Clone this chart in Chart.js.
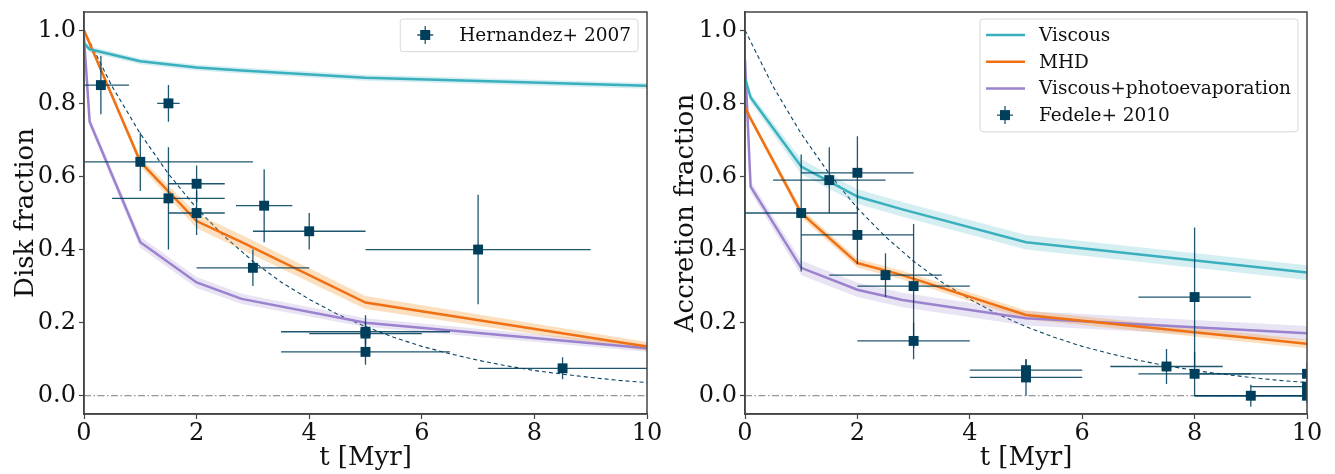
<!DOCTYPE html>
<html><head><meta charset="utf-8">
<script src="https://cdn.jsdelivr.net/npm/chart.js@4/dist/chart.umd.min.js"></script>
<style>
html,body{margin:0;padding:0;background:#fff;}
#wrap{position:relative;width:1335px;height:474px;overflow:hidden;}
#c1{position:absolute;left:0;top:0;}
#c2{position:absolute;left:667px;top:0;}
</style></head><body>
<div id="wrap">
<canvas id="c1" width="667" height="474"></canvas>
<canvas id="c2" width="668" height="474"></canvas>
</div>
<script>
// ---------- data ----------
const xTickVals = [0, 2, 4, 6, 8, 10];
const yTickVals = [0.0, 0.2, 0.4, 0.6, 0.8, 1.0];

const modelT = [0, 0.1, 1, 2, 2.8, 5, 10];
// Disk fraction models
const diskViscous = [0.965, 0.948, 0.915, 0.898, 0.890, 0.870, 0.848];
const diskMHD     = [1.000, 0.964, 0.640, 0.478, 0.420, 0.255, 0.135];
const diskPhoto   = [0.980, 0.750, 0.420, 0.310, 0.265, 0.200, 0.130];
const diskViscousErr = [0.008, 0.008, 0.008, 0.008, 0.008, 0.008, 0.008];
const diskMHDErr     = [0.005, 0.006, 0.012, 0.020, 0.020, 0.018, 0.012];
const diskPhotoErr   = [0.010, 0.012, 0.015, 0.015, 0.014, 0.012, 0.010];
// Accretion fraction models
const accViscous = [0.870, 0.816, 0.627, 0.545, 0.510, 0.420, 0.337];
const accMHD     = [0.790, 0.758, 0.500, 0.363, 0.330, 0.221, 0.142];
const accPhoto   = [0.920, 0.572, 0.350, 0.290, 0.262, 0.212, 0.171];
const accViscousErr = [0.010, 0.012, 0.020, 0.020, 0.020, 0.020, 0.020];
const accMHDErr     = [0.008, 0.008, 0.012, 0.012, 0.012, 0.012, 0.012];
const accPhotoErr   = [0.010, 0.015, 0.020, 0.020, 0.020, 0.020, 0.020];

// dashed reference decay curve
const refT = [0, 0.5, 1, 1.5, 2, 2.5, 3, 3.5, 4, 4.5, 5, 5.5, 6, 6.5, 7, 7.5, 8, 8.5, 9, 9.5, 10];
const refF = [1.0, 0.846, 0.717, 0.607, 0.513, 0.435, 0.368, 0.311, 0.264, 0.223, 0.189,
              0.160, 0.135, 0.115, 0.097, 0.082, 0.069, 0.059, 0.050, 0.042, 0.036];
// zero line
const zeroT = [0, 10];
const zeroF = [0, 0];

// Hernandez+ 2007
const hernT    = [0.3, 1.5, 1.0, 1.5, 2.0, 2.0, 3.2, 4.0, 3.0, 7.0, 5.0, 5.0, 5.0, 8.5];
const hernF    = [0.85, 0.80, 0.64, 0.54, 0.58, 0.50, 0.52, 0.45, 0.35, 0.40, 0.175, 0.17, 0.12, 0.075];
const hernTlo  = [0.5, 0.2, 1.0, 1.0, 0.5, 0.5, 0.5, 1.0, 1.0, 2.0, 1.5, 1.0, 1.5, 1.5];
const hernThi  = [0.5, 0.2, 2.0, 1.0, 0.5, 0.5, 0.5, 1.0, 1.0, 2.0, 1.5, 1.0, 1.5, 1.5];
const hernFerr = [0.08, 0.05, 0.08, 0.14, 0.05, 0.06, 0.10, 0.05, 0.05, 0.15, 0.045, 0.03, 0.035, 0.03];

// Fedele+ 2010
const fedT    = [1.0, 1.5, 2.0, 2.0, 2.5, 3.0, 3.0, 5.0, 5.0, 7.5, 8.0, 8.0, 9.0, 10.0, 10.0, 10.0];
const fedF    = [0.50, 0.59, 0.61, 0.44, 0.33, 0.30, 0.15, 0.07, 0.05, 0.08, 0.27, 0.06, 0.0, 0.06, 0.025, 0.0];
const fedTerr = [1, 1, 1, 1, 1, 1, 1, 1, 1, 1, 1, 1, 1, 2, 1, 2];
const fedFerr = [0.16, 0.09, 0.10, 0.08, 0.06, 0.17, 0.05, 0.03, 0.05, 0.048, 0.19, 0.06, 0.03, 0.03, 0.02, 0.02];

// ---------- styling ----------
const SERIF = "'DejaVu Serif', serif";
const C_TEAL = '#3ab0bf', C_TEAL_B = 'rgba(58,176,191,0.22)';
const C_ORNG = '#f07014', C_ORNG_B = 'rgba(245,150,40,0.30)';
const C_PURP = '#9b82cf', C_PURP_B = 'rgba(155,130,207,0.22)';
const C_PT = '#003f5c';
const SPINE = '#444';

const pts = (xs, ys) => xs.map((x, i) => ({x: x, y: ys[i]}));

function modelSets(ys, errs, line, band) {
  return [
    {data: pts(modelT, ys.map((v, i) => v + errs[i])), showLine: true, borderColor: 'rgba(0,0,0,0)',
     borderWidth: 0, pointRadius: 0, fill: false, order: 8, clip: 0, tension: 0},
    {data: pts(modelT, ys.map((v, i) => v - errs[i])), showLine: true, borderColor: 'rgba(0,0,0,0)',
     borderWidth: 0, pointRadius: 0, fill: '-1', backgroundColor: band, order: 8, clip: 0, tension: 0},
    {data: pts(modelT, ys), showLine: true, borderColor: line, borderWidth: 2.5, pointRadius: 0,
     fill: false, order: 5, clip: 0, tension: 0}
  ];
}

const errPlugin = {
  id: 'errbars',
  beforeDatasetDraw(chart, args, opts) {
    if (args.index !== opts.index) return;
    const {ctx, chartArea: a} = chart;
    const xs = chart.scales.x, ys = chart.scales.y;
    ctx.save();
    ctx.beginPath(); ctx.rect(a.left, a.top, a.right - a.left, a.bottom - a.top); ctx.clip();
    ctx.strokeStyle = 'rgba(0,63,92,0.88)';
    ctx.lineWidth = 1.3;
    for (let i = 0; i < opts.t.length; i++) {
      const t = opts.t[i], f = opts.f[i];
      const px = xs.getPixelForValue(t), py = ys.getPixelForValue(f);
      ctx.beginPath();
      ctx.moveTo(xs.getPixelForValue(t - opts.xlo[i]), py);
      ctx.lineTo(xs.getPixelForValue(t + opts.xhi[i]), py);
      ctx.moveTo(px, ys.getPixelForValue(f - opts.ferr[i]));
      ctx.lineTo(px, ys.getPixelForValue(f + opts.ferr[i]));
      ctx.stroke();
    }
    ctx.restore();
  }
};

const framePlugin = {
  id: 'frame',
  afterDraw(chart) {
    const {ctx, chartArea: a} = chart;
    ctx.save();
    ctx.strokeStyle = SPINE; ctx.lineWidth = 1.5;
    ctx.strokeRect(a.left, a.top, a.right - a.left, a.bottom - a.top);
    ctx.restore();
  }
};

const legendPlugin = {
  id: 'legbox',
  afterDraw(chart, args, opts) {
    const {ctx, chartArea: a} = chart;
    const items = opts.items;
    ctx.save();
    ctx.font = '18.5px ' + SERIF;
    let tw = 0;
    items.forEach(it => { tw = Math.max(tw, ctx.measureText(it.label).width); });
    const rowH = 26.7;
    const w = 59 + tw + 7, h = items.length * rowH + 6;
    const x0 = a.right - 9 - w, y0 = a.top + 7;
    ctx.fillStyle = 'rgba(255,255,255,0.85)';
    ctx.strokeStyle = '#d8d8d8'; ctx.lineWidth = 1;
    ctx.beginPath();
    if (ctx.roundRect) ctx.roundRect(x0, y0, w, h, 3); else ctx.rect(x0, y0, w, h);
    ctx.fill(); ctx.stroke();
    items.forEach((it, k) => {
      const cy = y0 + 16 + k * rowH;
      if (it.kind === 'line') {
        ctx.strokeStyle = it.color; ctx.lineWidth = 2.5;
        ctx.beginPath(); ctx.moveTo(x0 + 6, cy); ctx.lineTo(x0 + 45, cy); ctx.stroke();
      } else {
        const cx = x0 + 25;
        ctx.strokeStyle = 'rgba(0,63,92,0.88)'; ctx.lineWidth = 1.3;
        ctx.beginPath(); ctx.moveTo(cx - 8, cy); ctx.lineTo(cx + 8, cy);
        ctx.moveTo(cx, cy - 9); ctx.lineTo(cx, cy + 9); ctx.stroke();
        ctx.fillStyle = C_PT; ctx.fillRect(cx - 5, cy - 5, 10, 10);
      }
      ctx.fillStyle = '#111';
      ctx.textBaseline = 'middle'; ctx.textAlign = 'left';
      ctx.fillText(it.label, x0 + 59, cy + 1);
    });
    ctx.restore();
  }
};

function buildPanel(id, cfg) {
  const datasets = [];
  datasets.push({data: pts(zeroT, zeroF), showLine: true, borderColor: '#7a7a7a', borderWidth: 1,
                 borderDash: [7, 2.5, 1.5, 2.5], pointRadius: 0, fill: false, order: 10, clip: 0});
  datasets.push({data: pts(refT, refF), showLine: true, borderColor: '#0d4563', borderWidth: 1.1,
                 borderDash: [4, 3], pointRadius: 0, fill: false, order: 9, clip: 0, tension: 0});
  cfg.models.forEach(m => modelSets(m.y, m.e, m.c, m.b).forEach(d => datasets.push(d)));
  const ptIndex = datasets.length;
  datasets.push({data: pts(cfg.obs.t, cfg.obs.f), showLine: false, pointStyle: 'rect', pointRadius: 7,
                 pointHoverRadius: 7, backgroundColor: C_PT, borderColor: C_PT, borderWidth: 0, order: 0, clip: 0});

  return new Chart(document.getElementById(id), {
    type: 'scatter',
    data: {datasets},
    plugins: [errPlugin, framePlugin, legendPlugin],
    options: {
      responsive: false, animation: false, events: [],
      layout: {padding: {left: 0, right: cfg.padRight, top: 12, bottom: 0}},
      plugins: {
        legend: {display: false}, tooltip: {enabled: false},
        errbars: {index: ptIndex, t: cfg.obs.t, f: cfg.obs.f, xlo: cfg.obs.xlo, xhi: cfg.obs.xhi, ferr: cfg.obs.ferr},
        legbox: {items: cfg.legend}
      },
      scales: {
        x: {
          type: 'linear', min: 0, max: 10,
          afterBuildTicks: s => { s.ticks = xTickVals.map(v => ({value: v})); },
          afterFit: s => { s.height = 60; s.paddingLeft = 0; s.paddingRight = 0; },
          ticks: {color: '#111', font: {family: SERIF, size: 24}, padding: 0, maxRotation: 0,
                  callback: v => String(v)},
          grid: {drawOnChartArea: false, drawTicks: true, tickLength: 5, color: SPINE, tickWidth: 1.2},
          border: {display: true, color: SPINE, width: 1.5},
          title: {display: true, text: 't [Myr]', color: '#111', font: {family: SERIF, size: 26},
                  padding: {top: 0, bottom: 0.4}}
        },
        y: {
          type: 'linear', min: -0.05, max: 1.05,
          afterBuildTicks: s => { s.ticks = yTickVals.map(v => ({value: v})); },
          afterFit: s => { s.width = cfg.yWidth; s.paddingTop = 0; s.paddingBottom = 0; },
          ticks: {color: '#111', font: {family: SERIF, size: 24}, padding: 3,
                  callback: v => Number(v).toFixed(1)},
          grid: {drawOnChartArea: false, drawTicks: true, tickLength: 5, color: SPINE, tickWidth: 1.2},
          border: {display: true, color: SPINE, width: 1.5},
          title: {display: true, text: cfg.yTitle, color: '#111', font: {family: SERIF, size: 26},
                  padding: {top: cfg.yTitlePad, bottom: 0}}
        }
      }
    }
  });
}

buildPanel('c1', {
  padRight: 20, yWidth: 84, yTitle: 'Disk fraction', yTitlePad: 10.6,
  models: [
    {y: diskViscous, e: diskViscousErr, c: C_TEAL, b: C_TEAL_B},
    {y: diskMHD, e: diskMHDErr, c: C_ORNG, b: C_ORNG_B},
    {y: diskPhoto, e: diskPhotoErr, c: C_PURP, b: C_PURP_B}
  ],
  obs: {t: hernT, f: hernF, xlo: hernTlo, xhi: hernThi, ferr: hernFerr},
  legend: [{kind: 'pt', label: 'Hernandez+ 2007'}]
});

buildPanel('c2', {
  padRight: 28, yWidth: 78, yTitle: 'Accretion fraction', yTitlePad: 4.0,
  models: [
    {y: accViscous, e: accViscousErr, c: C_TEAL, b: C_TEAL_B},
    {y: accMHD, e: accMHDErr, c: C_ORNG, b: C_ORNG_B},
    {y: accPhoto, e: accPhotoErr, c: C_PURP, b: C_PURP_B}
  ],
  obs: {t: fedT, f: fedF, xlo: fedTerr, xhi: fedTerr, ferr: fedFerr},
  legend: [
    {kind: 'line', color: C_TEAL, label: 'Viscous'},
    {kind: 'line', color: C_ORNG, label: 'MHD'},
    {kind: 'line', color: C_PURP, label: 'Viscous+photoevaporation'},
    {kind: 'pt', label: 'Fedele+ 2010'}
  ]
});
</script>
</body></html>
